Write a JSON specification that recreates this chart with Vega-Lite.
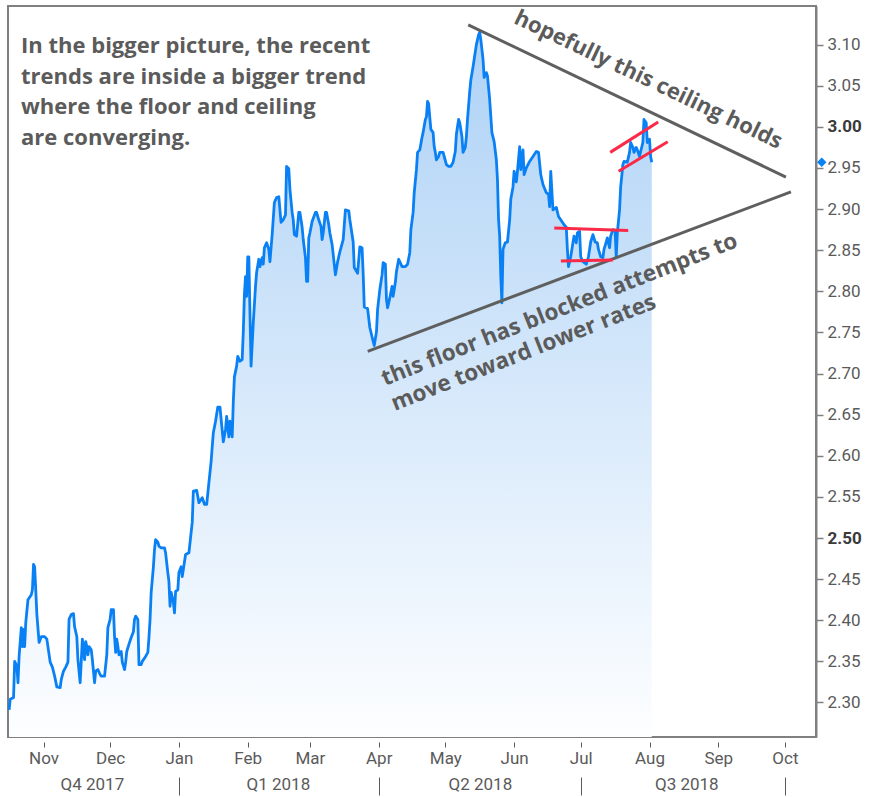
{
"$schema":"https://vega.github.io/schema/vega-lite/v6.json",
"width":808,"height":731,
"padding":{"left":7,"top":6,"right":0,"bottom":0},
"autosize":{"type":"pad"},
"background":"white",
"config":{"view":{"stroke":"#808080","strokeWidth":2},"axis":{"labelFont":"Roboto","labelColor":"#5a5a5a","labelFontSize":17,"grid":false}},
"datasets":{
"yields":[
{"date":"2017-10-16T12:00","value":2.291},{"date":"2017-10-17T00:00","value":2.304},{"date":"2017-10-18T12:00","value":2.306},{"date":"2017-10-19T00:00","value":2.350},{"date":"2017-10-20T00:00","value":2.344},{"date":"2017-10-20T12:00","value":2.324},{"date":"2017-10-21T00:00","value":2.356},{"date":"2017-10-22T00:00","value":2.391},{"date":"2017-10-22T12:00","value":2.368},{"date":"2017-10-23T00:00","value":2.389},{"date":"2017-10-23T12:00","value":2.368},{"date":"2017-10-24T00:00","value":2.397},{"date":"2017-10-25T00:00","value":2.425},{"date":"2017-10-26T12:00","value":2.431},{"date":"2017-10-27T00:00","value":2.437},{"date":"2017-10-27T12:00","value":2.468},{"date":"2017-10-28T00:00","value":2.465},{"date":"2017-10-28T12:00","value":2.437},{"date":"2017-10-29T00:00","value":2.407},{"date":"2017-10-30T00:00","value":2.373},{"date":"2017-10-31T00:00","value":2.380},
{"date":"2017-11-01T12:00","value":2.380},{"date":"2017-11-02T12:00","value":2.377},{"date":"2017-11-04T00:00","value":2.349},{"date":"2017-11-05T00:00","value":2.343},{"date":"2017-11-06T00:00","value":2.332},{"date":"2017-11-07T00:00","value":2.319},{"date":"2017-11-08T12:00","value":2.318},{"date":"2017-11-09T00:00","value":2.328},{"date":"2017-11-10T00:00","value":2.338},{"date":"2017-11-11T00:00","value":2.343},{"date":"2017-11-12T00:00","value":2.349},{"date":"2017-11-12T12:00","value":2.401},{"date":"2017-11-13T12:00","value":2.407},{"date":"2017-11-14T12:00","value":2.408},{"date":"2017-11-15T00:00","value":2.392},{"date":"2017-11-16T00:00","value":2.380},{"date":"2017-11-16T12:00","value":2.352},{"date":"2017-11-17T12:00","value":2.324},{"date":"2017-11-18T00:00","value":2.350},{"date":"2017-11-18T12:00","value":2.377},{"date":"2017-11-19T00:00","value":2.364},{"date":"2017-11-19T12:00","value":2.352},{"date":"2017-11-20T00:00","value":2.374},{"date":"2017-11-20T12:00","value":2.368},{"date":"2017-11-21T00:00","value":2.358},{"date":"2017-11-21T12:00","value":2.368},{"date":"2017-11-22T12:00","value":2.364},{"date":"2017-11-23T00:00","value":2.352},{"date":"2017-11-24T00:00","value":2.324},{"date":"2017-11-24T12:00","value":2.338},{"date":"2017-11-25T12:00","value":2.340},{"date":"2017-11-26T12:00","value":2.334},{"date":"2017-11-27T00:00","value":2.332},{"date":"2017-11-28T12:00","value":2.332},{"date":"2017-11-29T12:00","value":2.358},{"date":"2017-11-30T00:00","value":2.391},
{"date":"2017-12-01T00:00","value":2.401},{"date":"2017-12-01T12:00","value":2.413},{"date":"2017-12-02T12:00","value":2.413},{"date":"2017-12-03T00:00","value":2.380},{"date":"2017-12-03T12:00","value":2.361},{"date":"2017-12-04T00:00","value":2.377},{"date":"2017-12-04T12:00","value":2.368},{"date":"2017-12-05T00:00","value":2.358},{"date":"2017-12-06T00:00","value":2.362},{"date":"2017-12-06T12:00","value":2.349},{"date":"2017-12-07T12:00","value":2.340},{"date":"2017-12-08T00:00","value":2.349},{"date":"2017-12-08T12:00","value":2.362},{"date":"2017-12-09T12:00","value":2.371},{"date":"2017-12-10T12:00","value":2.379},{"date":"2017-12-11T12:00","value":2.386},{"date":"2017-12-12T00:00","value":2.401},{"date":"2017-12-12T12:00","value":2.405},{"date":"2017-12-13T12:00","value":2.401},{"date":"2017-12-14T00:00","value":2.346},{"date":"2017-12-15T00:00","value":2.346},{"date":"2017-12-15T12:00","value":2.350},{"date":"2017-12-17T00:00","value":2.356},{"date":"2017-12-18T00:00","value":2.361},{"date":"2017-12-18T12:00","value":2.379},{"date":"2017-12-19T00:00","value":2.401},{"date":"2017-12-19T12:00","value":2.434},{"date":"2017-12-20T12:00","value":2.465},{"date":"2017-12-21T00:00","value":2.486},{"date":"2017-12-21T12:00","value":2.498},{"date":"2017-12-22T12:00","value":2.495},{"date":"2017-12-23T00:00","value":2.490},{"date":"2017-12-24T00:00","value":2.488},{"date":"2017-12-25T12:00","value":2.488},{"date":"2017-12-26T00:00","value":2.482},{"date":"2017-12-27T00:00","value":2.458},{"date":"2017-12-27T12:00","value":2.447},{"date":"2017-12-28T00:00","value":2.417},{"date":"2017-12-28T12:00","value":2.434},{"date":"2017-12-29T12:00","value":2.422},{"date":"2017-12-30T00:00","value":2.409},{"date":"2017-12-30T12:00","value":2.435},{"date":"2017-12-31T12:00","value":2.437},
{"date":"2018-01-01T00:00","value":2.458},{"date":"2018-01-02T00:00","value":2.465},{"date":"2018-01-02T12:00","value":2.453},{"date":"2018-01-04T00:00","value":2.480},{"date":"2018-01-05T12:00","value":2.482},{"date":"2018-01-07T00:00","value":2.519},{"date":"2018-01-07T12:00","value":2.557},{"date":"2018-01-09T00:00","value":2.558},{"date":"2018-01-10T00:00","value":2.543},{"date":"2018-01-11T12:00","value":2.549},{"date":"2018-01-12T12:00","value":2.541},{"date":"2018-01-13T12:00","value":2.541},{"date":"2018-01-14T12:00","value":2.567},{"date":"2018-01-15T12:00","value":2.593},{"date":"2018-01-16T00:00","value":2.611},{"date":"2018-01-16T12:00","value":2.628},{"date":"2018-01-17T12:00","value":2.642},{"date":"2018-01-18T12:00","value":2.659},{"date":"2018-01-19T12:00","value":2.659},{"date":"2018-01-21T00:00","value":2.617},{"date":"2018-01-22T00:00","value":2.632},{"date":"2018-01-22T12:00","value":2.648},{"date":"2018-01-23T12:00","value":2.623},{"date":"2018-01-24T00:00","value":2.642},{"date":"2018-01-25T00:00","value":2.623},{"date":"2018-01-25T12:00","value":2.666},{"date":"2018-01-26T00:00","value":2.696},{"date":"2018-01-27T00:00","value":2.709},{"date":"2018-01-27T12:00","value":2.721},{"date":"2018-01-28T12:00","value":2.715},{"date":"2018-01-29T12:00","value":2.717},{"date":"2018-01-30T00:00","value":2.751},{"date":"2018-01-30T12:00","value":2.796},{"date":"2018-01-31T00:00","value":2.818},{"date":"2018-01-31T12:00","value":2.794},
{"date":"2018-02-01T00:00","value":2.842},{"date":"2018-02-01T12:00","value":2.842},{"date":"2018-02-02T00:00","value":2.774},{"date":"2018-02-02T12:00","value":2.709},{"date":"2018-02-03T12:00","value":2.762},{"date":"2018-02-04T12:00","value":2.806},{"date":"2018-02-05T00:00","value":2.823},{"date":"2018-02-06T00:00","value":2.839},{"date":"2018-02-06T12:00","value":2.830},{"date":"2018-02-07T12:00","value":2.841},{"date":"2018-02-08T00:00","value":2.833},{"date":"2018-02-08T12:00","value":2.853},{"date":"2018-02-09T12:00","value":2.859},{"date":"2018-02-10T12:00","value":2.851},{"date":"2018-02-11T00:00","value":2.836},{"date":"2018-02-12T00:00","value":2.869},{"date":"2018-02-13T00:00","value":2.908},{"date":"2018-02-14T00:00","value":2.914},{"date":"2018-02-15T00:00","value":2.915},{"date":"2018-02-16T00:00","value":2.884},{"date":"2018-02-17T00:00","value":2.887},{"date":"2018-02-18T00:00","value":2.893},{"date":"2018-02-18T12:00","value":2.952},{"date":"2018-02-19T12:00","value":2.949},{"date":"2018-02-20T00:00","value":2.924},{"date":"2018-02-21T00:00","value":2.896},{"date":"2018-02-21T12:00","value":2.887},{"date":"2018-02-22T00:00","value":2.869},{"date":"2018-02-23T00:00","value":2.867},{"date":"2018-02-24T00:00","value":2.896},{"date":"2018-02-24T12:00","value":2.896},{"date":"2018-02-25T12:00","value":2.878},{"date":"2018-02-26T00:00","value":2.863},{"date":"2018-02-27T00:00","value":2.841},{"date":"2018-02-27T12:00","value":2.812},{"date":"2018-02-28T00:00","value":2.812},{"date":"2018-02-28T12:00","value":2.865},
{"date":"2018-03-01T00:00","value":2.871},{"date":"2018-03-02T00:00","value":2.885},{"date":"2018-03-03T12:00","value":2.896},{"date":"2018-03-04T00:00","value":2.896},{"date":"2018-03-05T00:00","value":2.887},{"date":"2018-03-06T00:00","value":2.879},{"date":"2018-03-06T12:00","value":2.863},{"date":"2018-03-07T00:00","value":2.871},{"date":"2018-03-08T00:00","value":2.896},{"date":"2018-03-08T12:00","value":2.896},{"date":"2018-03-09T12:00","value":2.881},{"date":"2018-03-10T00:00","value":2.871},{"date":"2018-03-11T00:00","value":2.857},{"date":"2018-03-11T12:00","value":2.845},{"date":"2018-03-12T12:00","value":2.820},{"date":"2018-03-13T12:00","value":2.836},{"date":"2018-03-14T12:00","value":2.848},{"date":"2018-03-16T00:00","value":2.863},{"date":"2018-03-17T00:00","value":2.899},{"date":"2018-03-18T12:00","value":2.898},{"date":"2018-03-19T00:00","value":2.887},{"date":"2018-03-20T12:00","value":2.860},{"date":"2018-03-21T00:00","value":2.829},{"date":"2018-03-22T12:00","value":2.822},{"date":"2018-03-23T12:00","value":2.854},{"date":"2018-03-24T12:00","value":2.853},{"date":"2018-03-25T00:00","value":2.822},{"date":"2018-03-25T12:00","value":2.781},{"date":"2018-03-27T00:00","value":2.779},{"date":"2018-03-28T00:00","value":2.756},{"date":"2018-03-29T12:00","value":2.739},{"date":"2018-03-30T00:00","value":2.734},{"date":"2018-03-31T00:00","value":2.751},{"date":"2018-03-31T12:00","value":2.778},
{"date":"2018-04-01T12:00","value":2.802},{"date":"2018-04-02T12:00","value":2.820},{"date":"2018-04-03T00:00","value":2.835},{"date":"2018-04-04T00:00","value":2.833},{"date":"2018-04-04T12:00","value":2.790},{"date":"2018-04-05T00:00","value":2.780},{"date":"2018-04-06T00:00","value":2.792},{"date":"2018-04-07T00:00","value":2.806},{"date":"2018-04-07T12:00","value":2.794},{"date":"2018-04-08T12:00","value":2.811},{"date":"2018-04-09T00:00","value":2.824},{"date":"2018-04-10T00:00","value":2.839},{"date":"2018-04-11T12:00","value":2.830},{"date":"2018-04-13T00:00","value":2.830},{"date":"2018-04-14T00:00","value":2.833},{"date":"2018-04-15T00:00","value":2.847},{"date":"2018-04-15T12:00","value":2.875},{"date":"2018-04-16T12:00","value":2.896},{"date":"2018-04-17T00:00","value":2.920},{"date":"2018-04-18T00:00","value":2.948},{"date":"2018-04-18T12:00","value":2.969},{"date":"2018-04-19T12:00","value":2.972},{"date":"2018-04-20T12:00","value":2.987},{"date":"2018-04-21T00:00","value":2.993},{"date":"2018-04-22T00:00","value":3.009},{"date":"2018-04-22T12:00","value":3.012},{"date":"2018-04-23T00:00","value":3.031},{"date":"2018-04-23T12:00","value":3.028},{"date":"2018-04-24T00:00","value":3.012},{"date":"2018-04-24T12:00","value":2.997},{"date":"2018-04-25T12:00","value":2.993},{"date":"2018-04-26T00:00","value":2.976},{"date":"2018-04-26T12:00","value":2.969},{"date":"2018-04-27T00:00","value":2.960},{"date":"2018-04-28T00:00","value":2.964},{"date":"2018-04-28T12:00","value":2.969},{"date":"2018-04-30T00:00","value":2.969},{"date":"2018-04-30T12:00","value":2.964},
{"date":"2018-05-01T12:00","value":2.954},{"date":"2018-05-02T12:00","value":2.952},{"date":"2018-05-03T12:00","value":2.952},{"date":"2018-05-04T12:00","value":2.957},{"date":"2018-05-05T12:00","value":2.970},{"date":"2018-05-06T00:00","value":2.991},{"date":"2018-05-07T00:00","value":3.009},{"date":"2018-05-07T12:00","value":3.005},{"date":"2018-05-08T12:00","value":2.988},{"date":"2018-05-09T00:00","value":2.969},{"date":"2018-05-10T00:00","value":2.975},{"date":"2018-05-10T12:00","value":2.988},{"date":"2018-05-11T00:00","value":3.009},{"date":"2018-05-12T00:00","value":3.043},{"date":"2018-05-12T12:00","value":3.057},{"date":"2018-05-13T12:00","value":3.073},{"date":"2018-05-14T00:00","value":3.082},{"date":"2018-05-15T00:00","value":3.100},{"date":"2018-05-16T00:00","value":3.112},{"date":"2018-05-16T12:00","value":3.115},{"date":"2018-05-17T00:00","value":3.106},{"date":"2018-05-18T00:00","value":3.082},{"date":"2018-05-18T12:00","value":3.060},{"date":"2018-05-19T12:00","value":3.066},{"date":"2018-05-20T00:00","value":3.062},{"date":"2018-05-21T00:00","value":3.033},{"date":"2018-05-22T00:00","value":2.993},{"date":"2018-05-23T00:00","value":2.982},{"date":"2018-05-24T00:00","value":2.960},{"date":"2018-05-24T12:00","value":2.936},{"date":"2018-05-25T00:00","value":2.887},{"date":"2018-05-25T12:00","value":2.867},{"date":"2018-05-26T00:00","value":2.818},{"date":"2018-05-26T12:00","value":2.786},{"date":"2018-05-27T00:00","value":2.851},{"date":"2018-05-28T00:00","value":2.859},{"date":"2018-05-29T00:00","value":2.860},{"date":"2018-05-30T00:00","value":2.887},{"date":"2018-05-30T12:00","value":2.912},{"date":"2018-05-31T12:00","value":2.927},
{"date":"2018-06-01T00:00","value":2.946},{"date":"2018-06-02T00:00","value":2.933},{"date":"2018-06-02T12:00","value":2.946},{"date":"2018-06-03T12:00","value":2.976},{"date":"2018-06-04T00:00","value":2.948},{"date":"2018-06-05T00:00","value":2.972},{"date":"2018-06-05T12:00","value":2.942},{"date":"2018-06-06T12:00","value":2.950},{"date":"2018-06-08T00:00","value":2.958},{"date":"2018-06-09T12:00","value":2.964},{"date":"2018-06-11T00:00","value":2.970},{"date":"2018-06-12T00:00","value":2.969},{"date":"2018-06-13T00:00","value":2.942},{"date":"2018-06-14T00:00","value":2.930},{"date":"2018-06-15T12:00","value":2.920},{"date":"2018-06-16T12:00","value":2.918},{"date":"2018-06-17T00:00","value":2.903},{"date":"2018-06-17T12:00","value":2.946},{"date":"2018-06-18T12:00","value":2.899},{"date":"2018-06-20T00:00","value":2.902},{"date":"2018-06-21T00:00","value":2.891},{"date":"2018-06-22T00:00","value":2.887},{"date":"2018-06-23T12:00","value":2.881},{"date":"2018-06-24T12:00","value":2.878},{"date":"2018-06-25T00:00","value":2.851},{"date":"2018-06-25T12:00","value":2.830},{"date":"2018-06-26T12:00","value":2.842},{"date":"2018-06-27T12:00","value":2.859},{"date":"2018-06-28T00:00","value":2.867},{"date":"2018-06-29T00:00","value":2.859},{"date":"2018-06-29T12:00","value":2.871},{"date":"2018-06-30T12:00","value":2.873},
{"date":"2018-07-01T00:00","value":2.842},{"date":"2018-07-02T00:00","value":2.836},{"date":"2018-07-03T12:00","value":2.833},{"date":"2018-07-04T12:00","value":2.842},{"date":"2018-07-05T12:00","value":2.860},{"date":"2018-07-06T12:00","value":2.869},{"date":"2018-07-07T12:00","value":2.860},{"date":"2018-07-08T12:00","value":2.859},{"date":"2018-07-09T00:00","value":2.851},{"date":"2018-07-10T00:00","value":2.842},{"date":"2018-07-11T00:00","value":2.841},{"date":"2018-07-11T12:00","value":2.851},{"date":"2018-07-12T12:00","value":2.860},{"date":"2018-07-13T00:00","value":2.865},{"date":"2018-07-14T00:00","value":2.853},{"date":"2018-07-14T12:00","value":2.867},{"date":"2018-07-15T12:00","value":2.875},{"date":"2018-07-16T12:00","value":2.873},{"date":"2018-07-17T00:00","value":2.842},{"date":"2018-07-17T12:00","value":2.871},{"date":"2018-07-18T12:00","value":2.899},{"date":"2018-07-19T00:00","value":2.927},{"date":"2018-07-20T00:00","value":2.954},{"date":"2018-07-20T12:00","value":2.958},{"date":"2018-07-22T00:00","value":2.957},{"date":"2018-07-23T00:00","value":2.969},{"date":"2018-07-23T12:00","value":2.981},{"date":"2018-07-24T12:00","value":2.975},{"date":"2018-07-25T00:00","value":2.969},{"date":"2018-07-26T00:00","value":2.975},{"date":"2018-07-26T12:00","value":2.972},{"date":"2018-07-27T12:00","value":2.964},{"date":"2018-07-28T00:00","value":2.970},{"date":"2018-07-29T00:00","value":2.981},{"date":"2018-07-29T12:00","value":3.009},{"date":"2018-07-30T12:00","value":3.005},{"date":"2018-07-31T00:00","value":2.981},{"date":"2018-08-01T00:00","value":2.985},{"date":"2018-08-01T12:00","value":2.964},{"date":"2018-08-02T00:00","value":2.957}
],
"trendlines":[
{"date":"2018-05-11T08:00","value":3.124,"date2":"2018-10-01T11:00","value2":2.939},
{"date":"2018-03-27T01:00","value":2.727,"date2":"2018-10-03T17:00","value2":2.921}
],
"ranges":[
{"date":"2018-06-19T02:00","value":2.877,"date2":"2018-07-22T10:00","value2":2.874},
{"date":"2018-06-22T02:00","value":2.837,"date2":"2018-07-15T12:00","value2":2.838},
{"date":"2018-07-14T07:00","value":2.969,"date2":"2018-08-04T22:00","value2":3.006},
{"date":"2018-07-18T02:00","value":2.946,"date2":"2018-08-09T05:00","value2":2.982}
]
},
"encoding":{
  "y":{"field":"value","type":"quantitative","scale":{"domain":[2.258,3.147],"zero":false,"nice":false},
   "axis":{"orient":"right","title":null,"values":[2.3,2.35,2.4,2.45,2.5,2.55,2.6,2.65,2.7,2.75,2.8,2.85,2.9,2.95,3.0,3.05,3.1],"format":".2f","domainColor":"#808080","domainWidth":2,"tickColor":"#808080","tickWidth":1.5,"tickSize":7,"labelPadding":4,
    "labelFontWeight":{"condition":{"test":"abs(datum.value-3)<0.001 || abs(datum.value-2.5)<0.001","value":"bold"},"value":"normal"},
    "labelColor":{"condition":{"test":"abs(datum.value-3)<0.001 || abs(datum.value-2.5)<0.001","value":"#3a3a3a"},"value":"#5a5a5a"}}}
},
"layer":[
{"data":{"name":"yields"},
 "mark":{"type":"area","line":false,"color":{"gradient":"linear","x1":0,"y1":0,"x2":0,"y2":1,"stops":[{"offset":0,"color":"#aed2f6"},{"offset":1,"color":"#fdfeff"}]}},
 "encoding":{
  "x":{"field":"date","type":"temporal","scale":{"domain":[{"year":2017,"month":10,"date":16},{"year":2018,"month":10,"date":15}]},
   "axis":{"orient":"bottom","title":null,"values":[{"year":2017,"month":11,"date":1},{"year":2017,"month":12,"date":1},{"year":2018,"month":1,"date":1},{"year":2018,"month":2,"date":1},{"year":2018,"month":3,"date":1},{"year":2018,"month":4,"date":1},{"year":2018,"month":5,"date":1},{"year":2018,"month":6,"date":1},{"year":2018,"month":7,"date":1},{"year":2018,"month":8,"date":1},{"year":2018,"month":9,"date":1},{"year":2018,"month":10,"date":1}],
    "format":"%b","domain":false,"offset":5,"tickSize":5,"tickColor":"#595959","tickWidth":1,"labelPadding":3,"labelAlign":"center","labelFlush":false,"labelOverlap":false}},
  "y2":{"datum":2.258}
 }},
{"data":{"name":"yields"},
 "mark":{"type":"line","color":"#0a80f5","strokeWidth":2.8,"strokeJoin":"round"},
 "encoding":{
  "x":{"field":"date","type":"temporal","axis":null}
 }},
{"data":{"name":"trendlines"},
 "mark":{"type":"rule","color":"#5f5f5f","strokeWidth":3},
 "encoding":{
  "x":{"field":"date","type":"temporal",
   "axis":{"orient":"bottom","title":null,"values":[{"year":2017,"month":11,"date":22,"hours":19},{"year":2018,"month":2,"date":14,"hours":14},{"year":2018,"month":5,"date":16,"hours":14},{"year":2018,"month":8,"date":17,"hours":14}],
    "labelExpr":"'Q' + quarter(datum.value) + ' ' + year(datum.value)","domain":false,"ticks":false,"offset":36,"labelPadding":3,"labelAlign":"center","labelFlush":false,"labelOverlap":false}},
  "x2":{"field":"date2"},
  "y2":{"field":"value2"}
 }},
{"data":{"name":"ranges"},
 "mark":{"type":"rule","color":"#fb2a48","strokeWidth":3},
 "encoding":{
  "x":{"field":"date","type":"temporal",
   "axis":{"orient":"bottom","title":null,"values":[{"year":2018,"month":1,"date":1},{"year":2018,"month":4,"date":1},{"year":2018,"month":7,"date":1},{"year":2018,"month":10,"date":1}],
    "labels":false,"domain":false,"offset":40,"tickSize":18,"tickColor":"#595959","tickWidth":1}},
  "x2":{"field":"date2"},
  "y2":{"field":"value2"}
 }},
{"data":{"values":[{"date":"2017-10-21T21:00","value":3.090,"note":"In the bigger picture, the recent\ntrends are inside a bigger trend\nwhere the floor and ceiling\nare converging."}]},
 "mark":{"type":"text","align":"left","baseline":"alphabetic","font":"Open Sans","fontWeight":"bold","fontSize":22,"lineHeight":30.7,"lineBreak":"\n","color":"#5b5b5b"},
 "encoding":{
  "x":{"field":"date","type":"temporal","axis":null},
  "text":{"field":"note","type":"nominal"}
 }},
{"data":{"values":[{"date":"2018-07-31T12:00","value":3.0575,"note":"hopefully this ceiling holds"}]},
 "mark":{"type":"text","align":"center","baseline":"middle","angle":25.5,"font":"Open Sans","fontWeight":"bold","fontSize":22,"color":"#5b5b5b"},
 "encoding":{
  "x":{"field":"date","type":"temporal","axis":null},
  "text":{"field":"note","type":"nominal"}
 }},
{"data":{"values":[{"date":"2018-04-03T19:00","value":2.685,"note":"this floor has blocked attempts to\nmove toward lower rates"}]},
 "mark":{"type":"text","align":"left","baseline":"alphabetic","angle":338.5,"font":"Open Sans","fontWeight":"bold","fontSize":22.5,"lineHeight":27,"lineBreak":"\n","color":"#5b5b5b"},
 "encoding":{
  "x":{"field":"date","type":"temporal","axis":null},
  "text":{"field":"note","type":"nominal"}
 }},
{"data":{"values":[{"date":"2018-10-17T14:00","value":2.957}]},
 "mark":{"type":"point","shape":"diamond","filled":true,"size":90,"color":"#0a80f5","opacity":1},
 "encoding":{
  "x":{"field":"date","type":"temporal","axis":null}
 }}
],
"resolve":{"axis":{"x":"independent"}}
}
